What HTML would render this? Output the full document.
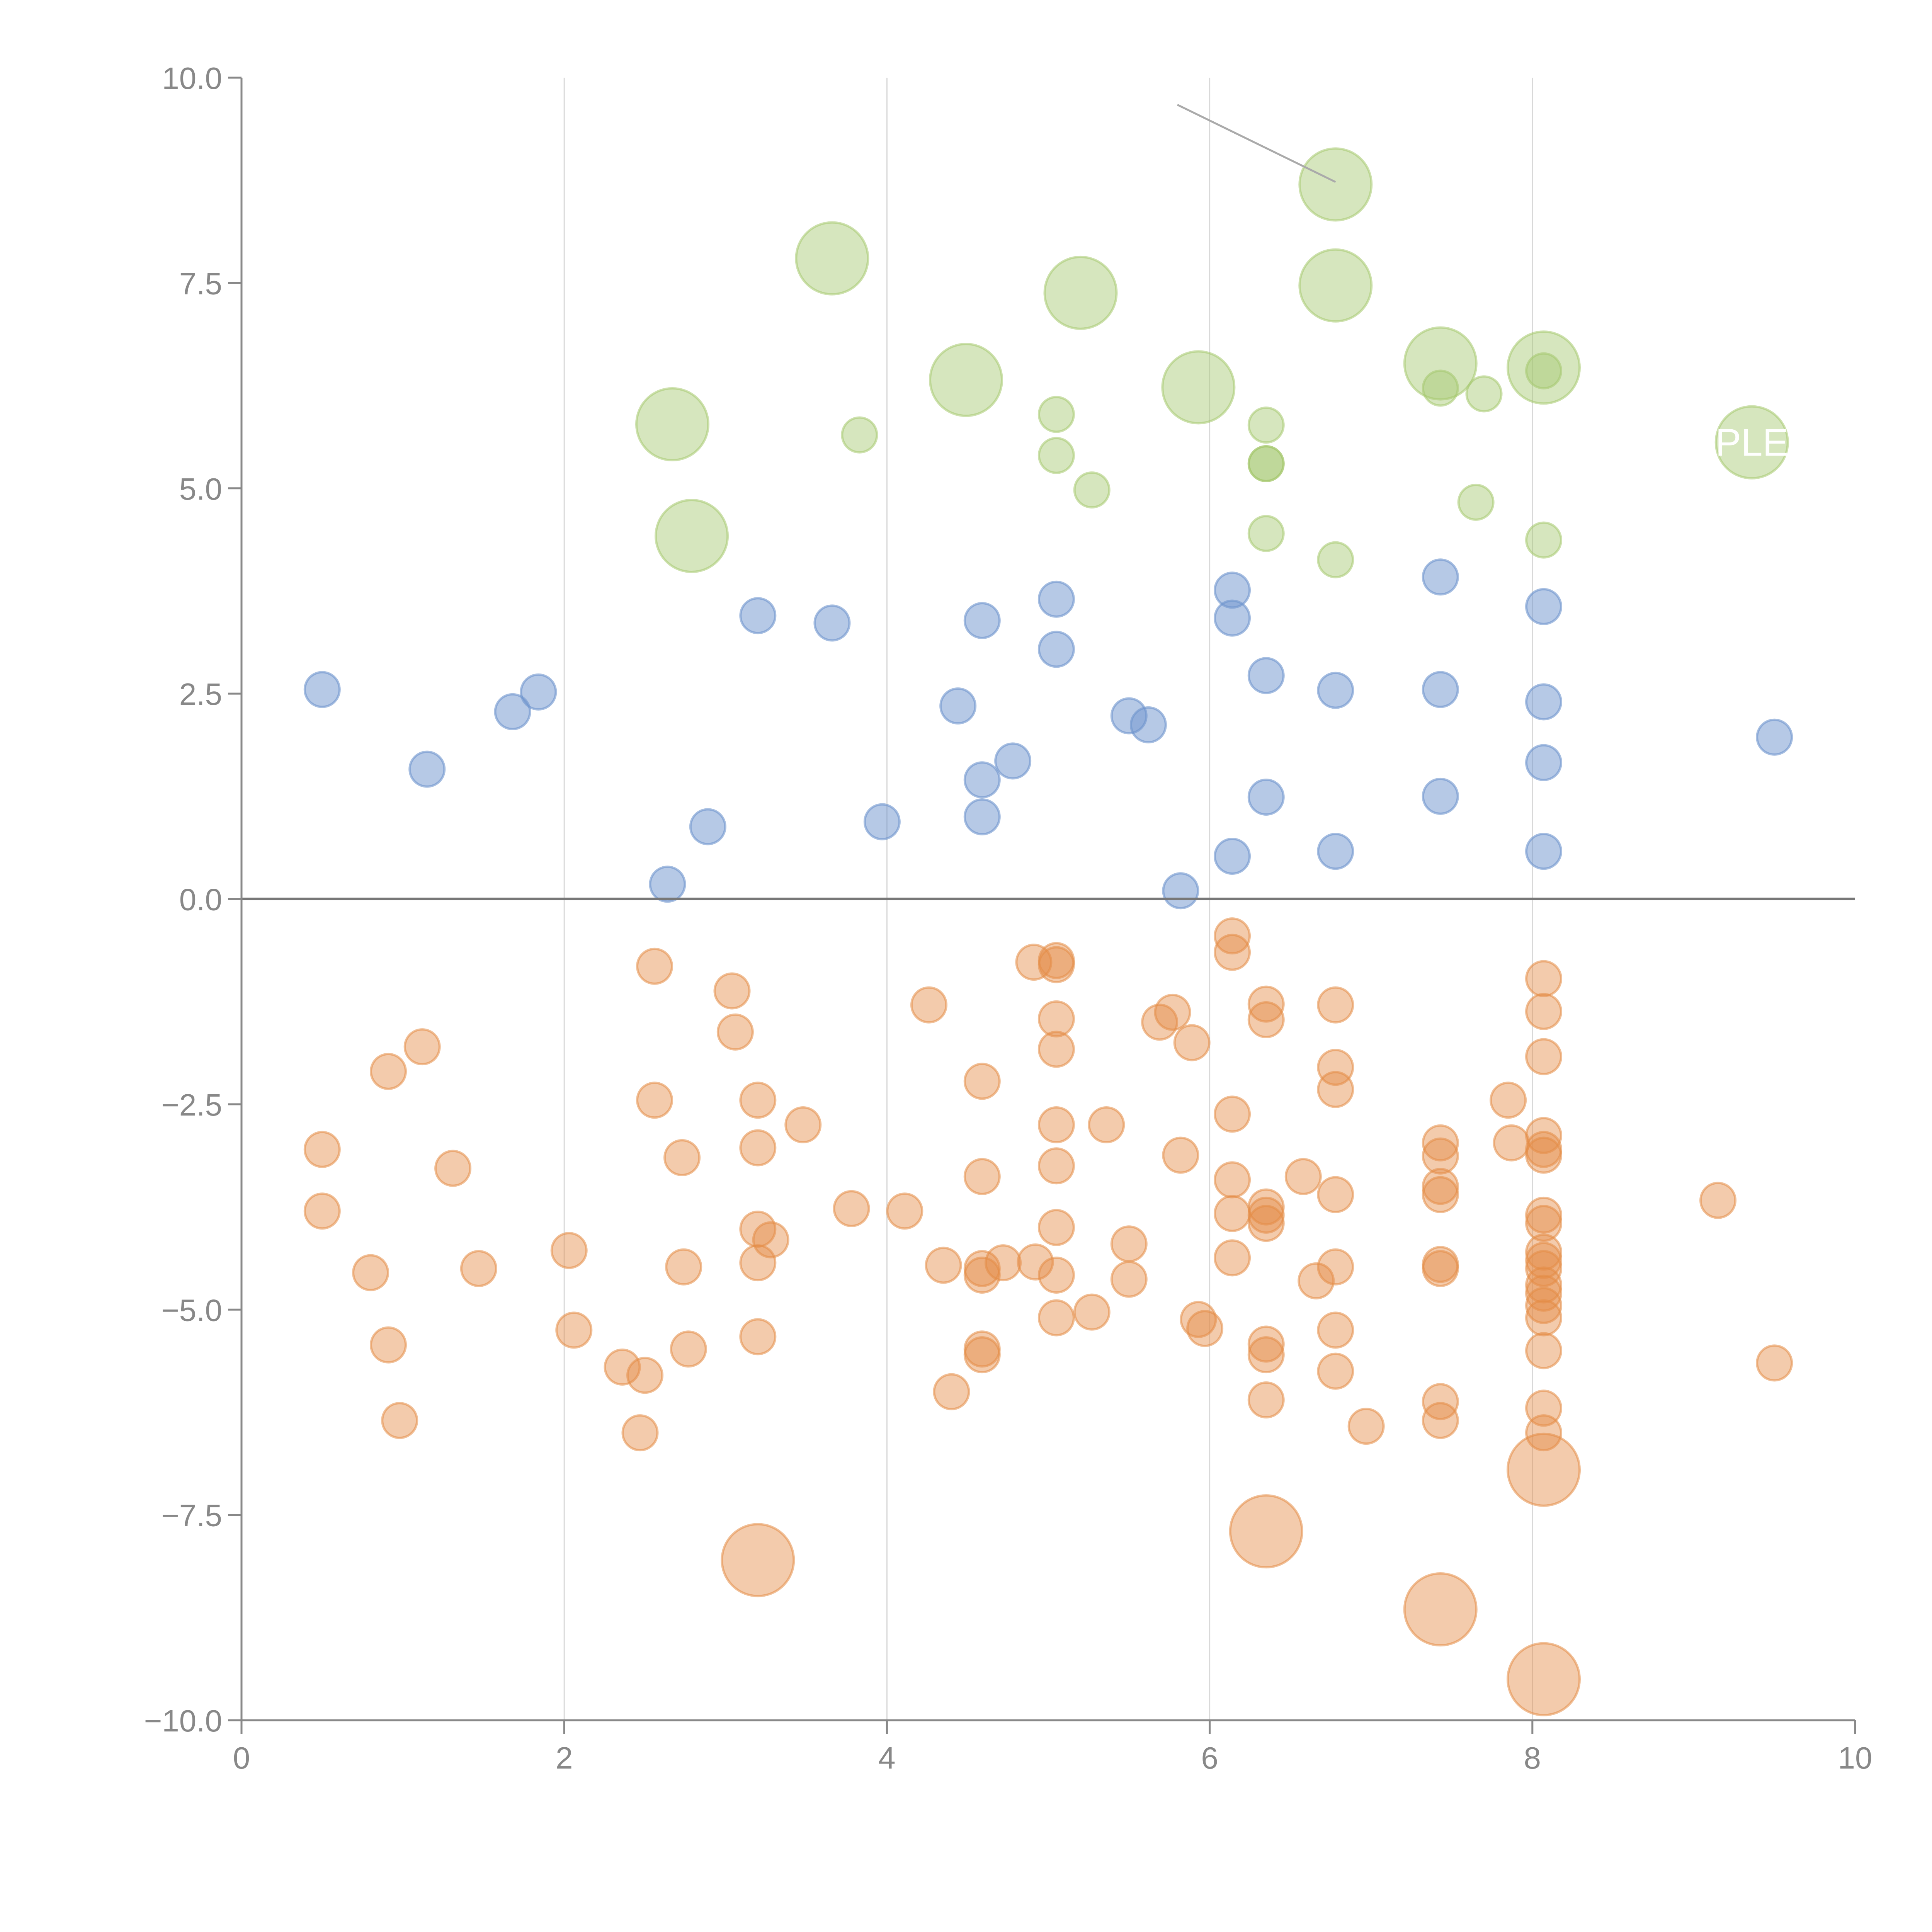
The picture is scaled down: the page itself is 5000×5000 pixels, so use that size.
<!DOCTYPE html>
<html><head><meta charset="utf-8"><style>
html,body{margin:0;padding:0;background:#fff;}
svg{display:block;font-family:"Liberation Sans",sans-serif;}
</style></head><body>
<svg id="chart" width="5000" height="5000" viewBox="0 0 5000 5000" xmlns="http://www.w3.org/2000/svg">
<g id="grid"></g>
<g id="marks"></g>
<g id="axes"></g>
</svg>
<script>
const xTicks=[0,2,4,6,8,10];
const yTicks=[-10,-7.5,-5,-2.5,0,2.5,5,7.5,10];
const blueX=[0.5,1.15,1.68,1.84,2.64,2.89,3.2,3.66,3.97,4.44,4.59,4.59,4.59,4.78,5.05,5.05,5.5,5.62,5.82,6.14,6.14,6.14,6.35,6.35,6.78,6.78,7.43,7.43,7.43,8.07,8.07,8.07,8.07,9.5];
const blueY=[2.55,1.58,2.28,2.52,0.18,0.88,3.45,3.36,0.94,2.35,3.39,1.45,1.0,1.68,3.65,3.04,2.23,2.12,0.1,3.76,3.42,0.52,2.72,1.24,2.54,0.58,3.92,2.55,1.25,3.56,2.40,1.66,0.58,1.97];
const greenX=[3.83,5.05,5.05,5.27,6.35,6.35,6.35,6.35,6.78,7.43,7.7,7.65,8.07,8.07];
const greenY=[5.65,5.9,5.4,4.98,5.77,5.3,5.3,4.45,4.13,6.22,6.15,4.83,6.43,4.37];
const greenBigX=[2.67,2.79,3.66,4.49,5.2,5.93,6.78,6.78,7.43,8.07,9.36];
const greenBigY=[5.78,4.42,7.8,6.32,7.38,6.23,8.7,7.47,6.52,6.47,5.56];
const orangeX=[0.5,0.5,0.8,0.91,1.12,0.91,0.98,1.31,1.47,2.03,2.06,2.36,2.5,2.47,2.56,2.56,2.73,2.74,2.77,3.04,3.06,3.2,3.2,3.2,3.2,3.2,3.28,3.48,3.78,4.11,4.26,4.35,4.4,4.59,4.59,4.59,4.59,4.59,4.59,4.72,4.91,4.92,5.05,5.05,5.05,5.05,5.05,5.05,5.05,5.05,5.05,5.27,5.36,5.5,5.5,5.69,5.77,5.82,5.89,5.93,5.97,6.14,6.14,6.14,6.14,6.14,6.14,6.35,6.35,6.35,6.35,6.35,6.35,6.35,6.35,6.58,6.66,6.78,6.78,6.78,6.78,6.78,6.78,6.78,6.97,7.43,7.43,7.43,7.43,7.43,7.43,7.43,7.43,7.85,7.87,8.07,8.07,8.07,8.07,8.07,8.07,8.07,8.07,8.07,8.07,8.07,8.07,8.07,8.07,8.07,8.07,8.07,8.07,9.15,9.5];
const orangeY=[-3.05,-3.8,-4.55,-2.1,-1.8,-5.43,-6.35,-3.28,-4.5,-4.28,-5.25,-5.7,-5.8,-6.5,-0.82,-2.45,-3.15,-4.48,-5.48,-1.12,-1.62,-2.45,-3.03,-4.02,-4.43,-5.33,-4.15,-2.75,-3.77,-3.8,-1.29,-4.46,-6.0,-2.22,-3.38,-4.5,-4.58,-5.48,-5.55,-4.43,-0.77,-4.42,-0.75,-0.8,-1.46,-1.83,-2.75,-3.25,-4.0,-4.58,-5.1,-5.03,-2.75,-4.2,-4.63,-1.5,-1.38,-3.12,-1.75,-5.12,-5.23,-0.45,-0.65,-2.62,-3.42,-3.83,-4.37,-1.28,-1.47,-3.75,-3.85,-3.95,-5.42,-5.55,-6.1,-3.38,-4.65,-1.29,-2.05,-2.32,-3.6,-4.48,-5.25,-5.75,-6.42,-2.97,-3.13,-3.5,-3.6,-4.45,-4.5,-6.12,-6.35,-2.45,-2.97,-0.97,-1.37,-1.92,-2.88,-3.05,-3.12,-3.85,-3.95,-4.3,-4.4,-4.5,-4.7,-4.8,-4.95,-5.1,-5.5,-6.2,-6.5,-3.67,-5.65];
const orangeBigX=[3.2,6.35,8.07,7.43,8.07];
const orangeBigY=[-8.05,-7.7,-6.95,-8.65,-9.5];

const NS="http://www.w3.org/2000/svg";
const X0=625,X1=4801,Y0=4452,Y1=201;
function sx(v){return X0+(v-0)/(10-0)*(X1-X0);}
function sy(v){return Y0-(v+10)/20*(Y0-Y1);}
function mk(tag,attrs,parent){const e=document.createElementNS(NS,tag);for(const k in attrs)e.setAttribute(k,attrs[k]);parent.appendChild(e);return e;}
const grid=document.getElementById('grid'),marks=document.getElementById('marks'),axes=document.getElementById('axes');
xTicks.forEach(t=>{if(t>0&&t<10){const l=mk('line',{x1:sx(t),x2:sx(t),y1:Y1,y2:Y0,stroke:'#d8d8d8','stroke-width':3},grid);

}});
function draw(xs,ys,r,fill,stroke,name){xs.forEach((x,i)=>{const c=mk('circle',{cx:sx(x),cy:sy(ys[i]),r:r,fill:fill,stroke:stroke,'stroke-width':6},marks);

});}
draw(orangeX,orangeY,45,'rgba(228,140,70,0.45)','rgba(228,140,70,0.55)','orange-bubble');
draw(orangeBigX,orangeBigY,93,'rgba(228,140,70,0.45)','rgba(228,140,70,0.55)','orange-large-bubble');
draw(blueX,blueY,45,'rgba(110,148,205,0.5)','rgba(110,148,205,0.6)','blue-bubble');
draw(greenX,greenY,45,'rgba(165,200,110,0.45)','rgba(165,200,110,0.55)','green-bubble');
draw(greenBigX,greenBigY,93,'rgba(165,200,110,0.45)','rgba(165,200,110,0.55)','green-large-bubble');
const an=mk('line',{x1:sx(5.8),y1:sy(9.67),x2:sx(6.78),y2:sy(8.73),stroke:'#aaa','stroke-width':5},marks);


const lbl=mk('text',{x:sx(9.36),y:sy(5.56)+35,fill:'#fff','font-size':100,'text-anchor':'middle'},marks);lbl.textContent='PLE';


const z=mk('line',{x1:X0,x2:X1,y1:sy(0),y2:sy(0),stroke:'#777','stroke-width':7},axes);


const ya=mk('line',{x1:X0,x2:X0,y1:Y1,y2:Y0,stroke:'#888','stroke-width':5},axes);


const xa=mk('line',{x1:X0,x2:X1,y1:Y0,y2:Y0,stroke:'#888','stroke-width':5},axes);


yTicks.forEach(t=>{const y=sy(t);mk('line',{x1:X0-35,x2:X0,y1:y,y2:y,stroke:'#888','stroke-width':5},axes);
const tx=mk('text',{x:X0-50,y:y+29,fill:'#888','font-size':80,'text-anchor':'end'},axes);
tx.textContent=t.toFixed(1).replace('-','\u2212');

});
xTicks.forEach(t=>{const x=sx(t);mk('line',{x1:x,x2:x,y1:Y0,y2:Y0+35,stroke:'#888','stroke-width':5},axes);
const tx=mk('text',{x:x,y:Y0+125,fill:'#888','font-size':80,'text-anchor':'middle'},axes);
tx.textContent=String(t);

});
</script>
</body></html>
